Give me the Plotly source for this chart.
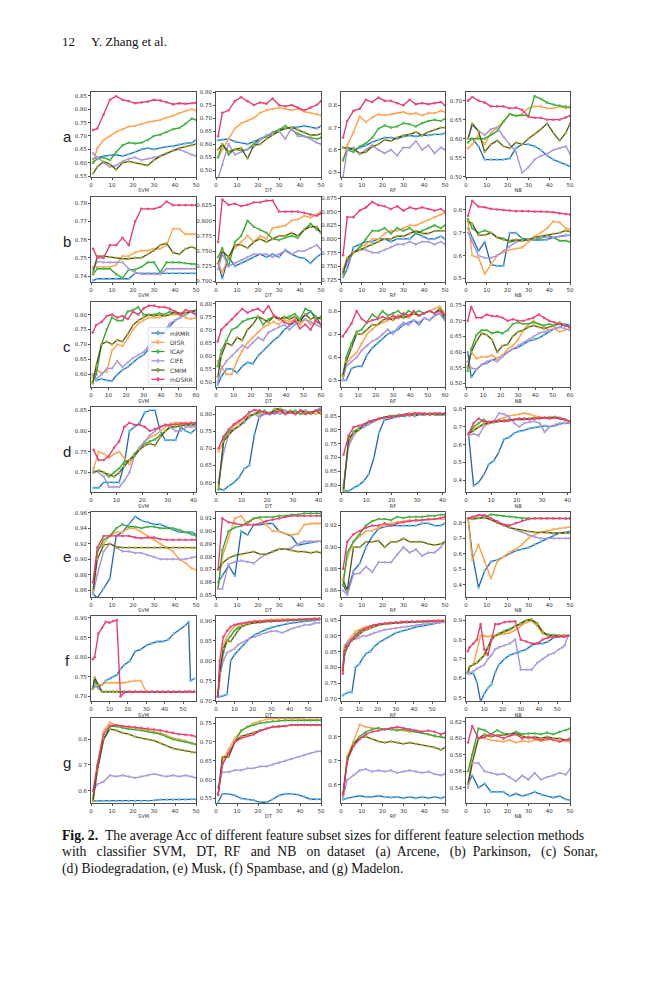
import plotly.graph_objects as go

# page is 659x1000; the HTML body adds an 8px margin, so the figure is a bit smaller
PAGE_W, PAGE_H, BODY = 659, 1000, 8
W, H = PAGE_W - 2 * BODY, PAGE_H - 2 * BODY


def fx(px):
    return (px - BODY) / W


def fy(py):
    return 1 - (py - BODY) / H


METHODS = ["mRMR", "DISR", "ICAP", "CIFE", "CMIM", "mDSRR"]
LINE_COLORS = ["#2464ad", "#ff9a3c", "#2ca02c", "#a08ad6", "#4e5216", "#e3336b"]
MARKER_COLORS = ["#5cc3ea", "#ffb266", "#4cbf4c", "#b5a3e6", "#b0b030", "#ee4a80"]
CLASSIFIERS = ["SVM", "DT", "RF", "NB"]
ROW_LETTERS = ["a", "b", "c", "d", "e", "f", "g"]

# feature subset sizes (x) per dataset row
X50 = [1, 3, 6, 9, 12, 15, 18, 21, 24, 27, 30, 33, 36, 39, 42, 45, 48, 50]
X60 = [1, 3, 6, 9, 12, 15, 18, 21, 24, 27, 30, 33, 36, 39, 42, 45, 48, 51, 54, 57, 60]
X40 = [1, 3, 5, 7, 9, 11, 13, 15, 17, 19, 21, 23, 25, 27, 29, 31, 33, 35, 37, 39, 41]
X57 = [1, 2, 4, 6, 8, 10, 12, 14, 16, 18, 21, 24, 27, 30, 33, 36, 39, 42, 45, 48, 51, 53, 54, 56]

# Each panel: [mRMR, DISR, ICAP, CIFE, CMIM, mDSRR]
# (a) Arcene
A_SVM = [
    [0.615, 0.62, 0.625, 0.628, 0.63, 0.625, 0.632, 0.64, 0.65, 0.655, 0.65, 0.655, 0.66, 0.662, 0.668, 0.672, 0.675, 0.685],
    [0.60, 0.655, 0.685, 0.70, 0.715, 0.725, 0.735, 0.738, 0.745, 0.752, 0.755, 0.76, 0.768, 0.775, 0.785, 0.793, 0.80, 0.795],
    [0.60, 0.615, 0.62, 0.61, 0.64, 0.665, 0.675, 0.672, 0.675, 0.685, 0.70, 0.705, 0.715, 0.725, 0.73, 0.745, 0.765, 0.76],
    [0.635, 0.62, 0.60, 0.585, 0.59, 0.605, 0.615, 0.62, 0.61, 0.615, 0.62, 0.625, 0.635, 0.645, 0.65, 0.64, 0.63, 0.625],
    [0.56, 0.585, 0.605, 0.595, 0.575, 0.60, 0.605, 0.60, 0.595, 0.59, 0.61, 0.625, 0.635, 0.645, 0.655, 0.66, 0.665, 0.67],
    [0.722, 0.728, 0.78, 0.835, 0.848, 0.835, 0.83, 0.822, 0.825, 0.828, 0.835, 0.832, 0.826, 0.818, 0.822, 0.82, 0.822, 0.824],
]
A_DT = [
    [0.615, 0.618, 0.62, 0.61, 0.605, 0.60, 0.61, 0.62, 0.63, 0.64, 0.655, 0.66, 0.665, 0.665, 0.67, 0.665, 0.66, 0.67],
    [0.55, 0.58, 0.62, 0.66, 0.68, 0.69, 0.70, 0.72, 0.73, 0.735, 0.74, 0.735, 0.73, 0.735, 0.725, 0.72, 0.715, 0.71],
    [0.55, 0.60, 0.56, 0.58, 0.575, 0.58, 0.60, 0.62, 0.63, 0.645, 0.655, 0.67, 0.655, 0.64, 0.63, 0.625, 0.62, 0.625],
    [0.47, 0.52, 0.60, 0.56, 0.57, 0.58, 0.59, 0.615, 0.635, 0.64, 0.65, 0.62, 0.66, 0.63, 0.63, 0.62, 0.605, 0.60],
    [0.58, 0.60, 0.57, 0.58, 0.585, 0.545, 0.595, 0.60, 0.62, 0.635, 0.65, 0.66, 0.665, 0.655, 0.645, 0.635, 0.635, 0.64],
    [0.63, 0.72, 0.73, 0.765, 0.78, 0.765, 0.75, 0.76, 0.755, 0.775, 0.75, 0.745, 0.75, 0.74, 0.73, 0.74, 0.75, 0.765],
]
A_RF = [
    [0.61, 0.605, 0.60, 0.61, 0.62, 0.635, 0.645, 0.655, 0.655, 0.65, 0.66, 0.665, 0.66, 0.665, 0.665, 0.67, 0.67, 0.675],
    [0.55, 0.62, 0.68, 0.75, 0.725, 0.745, 0.76, 0.755, 0.76, 0.765, 0.77, 0.76, 0.765, 0.755, 0.765, 0.765, 0.775, 0.77],
    [0.555, 0.60, 0.59, 0.615, 0.63, 0.655, 0.695, 0.71, 0.70, 0.705, 0.72, 0.715, 0.705, 0.72, 0.73, 0.735, 0.73, 0.74],
    [0.48, 0.60, 0.61, 0.58, 0.60, 0.62, 0.60, 0.585, 0.60, 0.575, 0.61, 0.61, 0.64, 0.60, 0.62, 0.585, 0.61, 0.60],
    [0.61, 0.61, 0.605, 0.585, 0.59, 0.615, 0.625, 0.645, 0.64, 0.655, 0.665, 0.67, 0.68, 0.665, 0.68, 0.69, 0.70, 0.70],
    [0.655, 0.73, 0.775, 0.785, 0.825, 0.815, 0.835, 0.82, 0.82, 0.81, 0.80, 0.825, 0.805, 0.81, 0.805, 0.81, 0.815, 0.80],
]
A_NB = [
    [0.60, 0.60, 0.58, 0.545, 0.545, 0.545, 0.545, 0.548, 0.575, 0.585, 0.585, 0.58, 0.57, 0.555, 0.545, 0.538, 0.532, 0.527],
    [0.575, 0.585, 0.61, 0.585, 0.615, 0.63, 0.645, 0.665, 0.66, 0.665, 0.68, 0.685, 0.685, 0.68, 0.68, 0.685, 0.68, 0.685],
    [0.59, 0.60, 0.60, 0.60, 0.61, 0.62, 0.645, 0.665, 0.66, 0.662, 0.66, 0.712, 0.705, 0.695, 0.69, 0.687, 0.685, 0.682],
    [0.60, 0.635, 0.62, 0.61, 0.625, 0.63, 0.605, 0.585, 0.565, 0.51, 0.525, 0.545, 0.555, 0.56, 0.57, 0.575, 0.58, 0.56],
    [0.60, 0.64, 0.62, 0.565, 0.585, 0.595, 0.58, 0.575, 0.59, 0.585, 0.60, 0.612, 0.625, 0.64, 0.615, 0.595, 0.615, 0.64],
    [0.70, 0.71, 0.70, 0.695, 0.685, 0.685, 0.685, 0.68, 0.682, 0.676, 0.658, 0.655, 0.655, 0.65, 0.65, 0.65, 0.656, 0.66],
]
# (b) Parkinson
B_SVM = [
    [0.7375, 0.7385, 0.7385, 0.7385, 0.7385, 0.7385, 0.7385, 0.7415, 0.7415, 0.7415, 0.7415, 0.7415, 0.7415, 0.7415, 0.7415, 0.7415, 0.7415, 0.7415],
    [0.745, 0.745, 0.745, 0.745, 0.746, 0.751, 0.751, 0.753, 0.754, 0.754, 0.755, 0.755, 0.757, 0.766, 0.766, 0.763, 0.763, 0.763],
    [0.741, 0.744, 0.744, 0.744, 0.741, 0.739, 0.7435, 0.7435, 0.745, 0.7475, 0.7475, 0.742, 0.7475, 0.7475, 0.7475, 0.747, 0.7465, 0.7465],
    [0.744, 0.748, 0.7475, 0.7475, 0.7475, 0.7475, 0.744, 0.742, 0.741, 0.741, 0.741, 0.741, 0.744, 0.744, 0.744, 0.744, 0.744, 0.744],
    [0.742, 0.751, 0.751, 0.7505, 0.75, 0.7495, 0.7495, 0.75, 0.75, 0.752, 0.754, 0.757, 0.758, 0.753, 0.752, 0.755, 0.756, 0.755],
    [0.755, 0.75, 0.75, 0.757, 0.757, 0.761, 0.757, 0.77, 0.777, 0.777, 0.777, 0.778, 0.781, 0.779, 0.779, 0.779, 0.779, 0.779],
]
B_DT = [
    [0.73, 0.705, 0.74, 0.725, 0.73, 0.735, 0.74, 0.745, 0.74, 0.745, 0.74, 0.752, 0.745, 0.74, 0.738, 0.73, 0.74, 0.745],
    [0.73, 0.715, 0.74, 0.755, 0.765, 0.775, 0.765, 0.775, 0.77, 0.788, 0.79, 0.792, 0.80, 0.802, 0.808, 0.805, 0.81, 0.815],
    [0.74, 0.755, 0.725, 0.765, 0.775, 0.80, 0.79, 0.785, 0.78, 0.77, 0.768, 0.772, 0.775, 0.772, 0.785, 0.795, 0.785, 0.78],
    [0.72, 0.745, 0.725, 0.73, 0.735, 0.74, 0.745, 0.745, 0.745, 0.74, 0.745, 0.75, 0.745, 0.75, 0.75, 0.755, 0.76, 0.752],
    [0.73, 0.75, 0.74, 0.76, 0.76, 0.755, 0.765, 0.77, 0.765, 0.77, 0.775, 0.775, 0.78, 0.775, 0.785, 0.79, 0.79, 0.78],
    [0.765, 0.835, 0.826, 0.828, 0.824, 0.826, 0.83, 0.83, 0.833, 0.833, 0.815, 0.815, 0.815, 0.815, 0.813, 0.81, 0.808, 0.812],
]
B_RF = [
    [0.73, 0.745, 0.785, 0.79, 0.795, 0.795, 0.80, 0.80, 0.795, 0.80, 0.80, 0.80, 0.81, 0.805, 0.80, 0.80, 0.805, 0.80],
    [0.745, 0.765, 0.775, 0.785, 0.79, 0.80, 0.80, 0.81, 0.815, 0.815, 0.82, 0.825, 0.825, 0.83, 0.835, 0.84, 0.845, 0.848],
    [0.74, 0.76, 0.775, 0.785, 0.80, 0.815, 0.815, 0.82, 0.81, 0.82, 0.815, 0.82, 0.81, 0.815, 0.82, 0.825, 0.82, 0.825],
    [0.74, 0.755, 0.775, 0.78, 0.78, 0.775, 0.775, 0.78, 0.785, 0.79, 0.79, 0.795, 0.79, 0.795, 0.795, 0.79, 0.795, 0.79],
    [0.735, 0.765, 0.775, 0.78, 0.785, 0.79, 0.795, 0.80, 0.80, 0.805, 0.805, 0.81, 0.815, 0.81, 0.81, 0.815, 0.815, 0.815],
    [0.77, 0.84, 0.84, 0.852, 0.858, 0.868, 0.862, 0.86, 0.855, 0.86, 0.852, 0.858, 0.855, 0.858, 0.855, 0.852, 0.855, 0.85],
]
B_NB = [
    [0.72, 0.68, 0.62, 0.66, 0.56, 0.555, 0.555, 0.70, 0.70, 0.675, 0.67, 0.668, 0.668, 0.67, 0.68, 0.685, 0.69, 0.69],
    [0.75, 0.60, 0.59, 0.52, 0.56, 0.60, 0.615, 0.625, 0.63, 0.635, 0.66, 0.685, 0.70, 0.72, 0.75, 0.745, 0.72, 0.715],
    [0.76, 0.72, 0.70, 0.71, 0.70, 0.68, 0.675, 0.66, 0.665, 0.67, 0.67, 0.67, 0.675, 0.69, 0.68, 0.665, 0.665, 0.66],
    [0.70, 0.66, 0.60, 0.59, 0.59, 0.60, 0.62, 0.64, 0.66, 0.665, 0.67, 0.675, 0.68, 0.68, 0.68, 0.685, 0.69, 0.69],
    [0.75, 0.74, 0.69, 0.69, 0.70, 0.68, 0.67, 0.665, 0.67, 0.665, 0.67, 0.68, 0.685, 0.69, 0.695, 0.70, 0.71, 0.705],
    [0.775, 0.84, 0.815, 0.812, 0.805, 0.802, 0.80, 0.798, 0.795, 0.795, 0.795, 0.793, 0.793, 0.792, 0.79, 0.785, 0.782, 0.78],
]
# (c) Sonar
C_SVM = [
    [0.60, 0.58, 0.585, 0.58, 0.578, 0.60, 0.615, 0.625, 0.64, 0.655, 0.665, 0.685, 0.70, 0.72, 0.74, 0.76, 0.78, 0.79, 0.80, 0.81, 0.81],
    [0.59, 0.615, 0.605, 0.61, 0.68, 0.70, 0.695, 0.72, 0.75, 0.77, 0.78, 0.79, 0.79, 0.79, 0.795, 0.80, 0.80, 0.80, 0.79, 0.785, 0.79],
    [0.575, 0.60, 0.70, 0.75, 0.79, 0.78, 0.78, 0.81, 0.815, 0.825, 0.80, 0.80, 0.80, 0.805, 0.80, 0.81, 0.805, 0.80, 0.805, 0.81, 0.815],
    [0.60, 0.585, 0.60, 0.62, 0.62, 0.645, 0.625, 0.64, 0.655, 0.665, 0.675, 0.695, 0.71, 0.725, 0.745, 0.77, 0.78, 0.79, 0.80, 0.81, 0.80],
    [0.57, 0.63, 0.70, 0.71, 0.70, 0.715, 0.71, 0.735, 0.765, 0.78, 0.79, 0.80, 0.795, 0.80, 0.795, 0.80, 0.81, 0.805, 0.805, 0.81, 0.815],
    [0.74, 0.765, 0.775, 0.795, 0.80, 0.79, 0.795, 0.785, 0.81, 0.80, 0.82, 0.83, 0.83, 0.825, 0.825, 0.82, 0.81, 0.80, 0.815, 0.81, 0.80],
]
C_DT = [
    [0.49, 0.52, 0.55, 0.55, 0.535, 0.56, 0.575, 0.57, 0.60, 0.62, 0.64, 0.66, 0.675, 0.70, 0.715, 0.73, 0.74, 0.755, 0.77, 0.75, 0.72],
    [0.58, 0.56, 0.53, 0.53, 0.58, 0.62, 0.65, 0.67, 0.69, 0.71, 0.72, 0.73, 0.72, 0.74, 0.73, 0.74, 0.72, 0.74, 0.72, 0.73, 0.72],
    [0.56, 0.62, 0.66, 0.70, 0.71, 0.73, 0.74, 0.745, 0.75, 0.72, 0.74, 0.75, 0.74, 0.745, 0.75, 0.76, 0.74, 0.78, 0.77, 0.74, 0.75],
    [0.50, 0.55, 0.58, 0.60, 0.62, 0.64, 0.63, 0.65, 0.67, 0.66, 0.69, 0.70, 0.71, 0.72, 0.70, 0.72, 0.73, 0.74, 0.73, 0.72, 0.71],
    [0.52, 0.60, 0.65, 0.64, 0.67, 0.66, 0.70, 0.72, 0.75, 0.74, 0.73, 0.75, 0.74, 0.75, 0.74, 0.75, 0.73, 0.76, 0.74, 0.75, 0.74],
    [0.655, 0.70, 0.72, 0.74, 0.76, 0.78, 0.765, 0.775, 0.78, 0.765, 0.79, 0.755, 0.745, 0.73, 0.72, 0.735, 0.705, 0.72, 0.70, 0.735, 0.72],
]
C_RF = [
    [0.50, 0.50, 0.55, 0.56, 0.56, 0.61, 0.64, 0.66, 0.68, 0.70, 0.71, 0.72, 0.74, 0.75, 0.76, 0.74, 0.77, 0.76, 0.78, 0.79, 0.76],
    [0.50, 0.57, 0.60, 0.62, 0.66, 0.70, 0.72, 0.74, 0.75, 0.76, 0.77, 0.77, 0.78, 0.77, 0.79, 0.78, 0.79, 0.80, 0.81, 0.82, 0.79],
    [0.52, 0.60, 0.66, 0.71, 0.72, 0.75, 0.785, 0.77, 0.80, 0.78, 0.79, 0.80, 0.78, 0.80, 0.79, 0.80, 0.79, 0.80, 0.79, 0.81, 0.78],
    [0.50, 0.56, 0.58, 0.60, 0.63, 0.65, 0.67, 0.68, 0.70, 0.72, 0.70, 0.73, 0.75, 0.74, 0.76, 0.75, 0.77, 0.76, 0.78, 0.79, 0.77],
    [0.52, 0.58, 0.64, 0.70, 0.70, 0.72, 0.74, 0.74, 0.76, 0.77, 0.76, 0.78, 0.77, 0.78, 0.79, 0.78, 0.79, 0.80, 0.79, 0.81, 0.77],
    [0.69, 0.71, 0.745, 0.80, 0.765, 0.75, 0.76, 0.765, 0.775, 0.765, 0.78, 0.77, 0.79, 0.78, 0.80, 0.78, 0.79, 0.80, 0.79, 0.80, 0.78],
]
C_NB = [
    [0.60, 0.52, 0.545, 0.56, 0.565, 0.575, 0.58, 0.59, 0.60, 0.61, 0.615, 0.625, 0.635, 0.64, 0.645, 0.655, 0.665, 0.675, 0.68, 0.69, 0.685],
    [0.55, 0.60, 0.58, 0.585, 0.585, 0.59, 0.58, 0.59, 0.61, 0.62, 0.64, 0.67, 0.69, 0.70, 0.69, 0.68, 0.67, 0.675, 0.665, 0.67, 0.675],
    [0.54, 0.61, 0.655, 0.67, 0.67, 0.66, 0.665, 0.66, 0.67, 0.69, 0.695, 0.69, 0.69, 0.695, 0.69, 0.685, 0.69, 0.685, 0.69, 0.685, 0.68],
    [0.57, 0.55, 0.545, 0.56, 0.57, 0.575, 0.57, 0.585, 0.60, 0.61, 0.62, 0.63, 0.64, 0.65, 0.66, 0.665, 0.67, 0.675, 0.68, 0.675, 0.67],
    [0.55, 0.60, 0.635, 0.66, 0.655, 0.64, 0.60, 0.62, 0.625, 0.65, 0.665, 0.67, 0.68, 0.685, 0.68, 0.675, 0.68, 0.685, 0.695, 0.685, 0.68],
    [0.70, 0.745, 0.71, 0.71, 0.72, 0.715, 0.715, 0.71, 0.70, 0.705, 0.70, 0.70, 0.705, 0.71, 0.72, 0.71, 0.70, 0.695, 0.69, 0.685, 0.68],
]
# (d) Biodegradation
D_SVM = [
    [0.663, 0.663, 0.676, 0.676, 0.676, 0.676, 0.72, 0.80, 0.81, 0.82, 0.845, 0.85, 0.85, 0.80, 0.778, 0.778, 0.778, 0.81, 0.80, 0.795, 0.805],
    [0.71, 0.75, 0.745, 0.735, 0.745, 0.75, 0.735, 0.72, 0.74, 0.76, 0.775, 0.785, 0.79, 0.80, 0.81, 0.818, 0.82, 0.82, 0.82, 0.815, 0.815],
    [0.70, 0.705, 0.70, 0.69, 0.70, 0.71, 0.725, 0.73, 0.745, 0.76, 0.77, 0.775, 0.78, 0.79, 0.80, 0.81, 0.81, 0.812, 0.815, 0.815, 0.82],
    [0.705, 0.70, 0.69, 0.665, 0.665, 0.665, 0.68, 0.70, 0.74, 0.76, 0.775, 0.79, 0.80, 0.81, 0.815, 0.81, 0.80, 0.80, 0.81, 0.81, 0.81],
    [0.70, 0.705, 0.70, 0.695, 0.69, 0.70, 0.715, 0.73, 0.74, 0.755, 0.765, 0.77, 0.765, 0.785, 0.80, 0.81, 0.81, 0.813, 0.815, 0.815, 0.815],
    [0.755, 0.73, 0.73, 0.74, 0.76, 0.775, 0.81, 0.82, 0.815, 0.815, 0.81, 0.80, 0.805, 0.81, 0.815, 0.815, 0.816, 0.818, 0.818, 0.82, 0.82],
]
D_DT = [
    [0.582, 0.578, 0.59, 0.60, 0.615, 0.64, 0.65, 0.74, 0.795, 0.80, 0.805, 0.80, 0.81, 0.80, 0.805, 0.80, 0.81, 0.80, 0.805, 0.81, 0.815],
    [0.69, 0.72, 0.745, 0.765, 0.775, 0.79, 0.795, 0.80, 0.80, 0.805, 0.80, 0.81, 0.805, 0.80, 0.81, 0.805, 0.80, 0.80, 0.805, 0.80, 0.805],
    [0.58, 0.73, 0.75, 0.755, 0.765, 0.775, 0.795, 0.80, 0.805, 0.81, 0.80, 0.81, 0.815, 0.81, 0.805, 0.81, 0.80, 0.81, 0.805, 0.81, 0.815],
    [0.60, 0.69, 0.74, 0.755, 0.765, 0.775, 0.79, 0.80, 0.79, 0.80, 0.80, 0.805, 0.80, 0.81, 0.805, 0.80, 0.81, 0.81, 0.80, 0.81, 0.82],
    [0.59, 0.72, 0.74, 0.755, 0.765, 0.78, 0.795, 0.80, 0.81, 0.805, 0.80, 0.815, 0.815, 0.80, 0.81, 0.80, 0.81, 0.805, 0.80, 0.81, 0.80],
    [0.70, 0.735, 0.755, 0.77, 0.78, 0.79, 0.805, 0.812, 0.81, 0.805, 0.80, 0.805, 0.81, 0.80, 0.805, 0.80, 0.81, 0.80, 0.805, 0.81, 0.81],
]
D_RF = [
    [0.58, 0.578, 0.59, 0.60, 0.615, 0.64, 0.70, 0.79, 0.835, 0.84, 0.845, 0.85, 0.85, 0.855, 0.85, 0.855, 0.855, 0.86, 0.855, 0.855, 0.855],
    [0.60, 0.75, 0.79, 0.80, 0.815, 0.825, 0.835, 0.84, 0.845, 0.85, 0.85, 0.855, 0.855, 0.86, 0.855, 0.86, 0.86, 0.855, 0.86, 0.855, 0.86],
    [0.59, 0.76, 0.795, 0.805, 0.815, 0.825, 0.835, 0.84, 0.845, 0.85, 0.85, 0.855, 0.85, 0.855, 0.86, 0.86, 0.855, 0.86, 0.86, 0.855, 0.86],
    [0.60, 0.74, 0.78, 0.80, 0.81, 0.82, 0.83, 0.84, 0.845, 0.845, 0.85, 0.85, 0.855, 0.85, 0.86, 0.855, 0.86, 0.855, 0.86, 0.86, 0.855],
    [0.58, 0.77, 0.79, 0.80, 0.82, 0.83, 0.835, 0.84, 0.845, 0.85, 0.85, 0.85, 0.855, 0.86, 0.855, 0.86, 0.855, 0.86, 0.855, 0.86, 0.855],
    [0.71, 0.78, 0.81, 0.815, 0.82, 0.83, 0.835, 0.84, 0.845, 0.845, 0.85, 0.85, 0.855, 0.855, 0.86, 0.86, 0.86, 0.855, 0.86, 0.86, 0.86],
]
D_NB = [
    [0.66, 0.37, 0.39, 0.43, 0.49, 0.51, 0.56, 0.63, 0.64, 0.665, 0.675, 0.68, 0.69, 0.695, 0.70, 0.705, 0.70, 0.705, 0.715, 0.72, 0.72],
    [0.66, 0.69, 0.70, 0.72, 0.73, 0.73, 0.74, 0.75, 0.76, 0.765, 0.77, 0.775, 0.77, 0.76, 0.755, 0.75, 0.755, 0.75, 0.745, 0.735, 0.73],
    [0.66, 0.70, 0.72, 0.74, 0.72, 0.725, 0.73, 0.735, 0.74, 0.74, 0.745, 0.745, 0.745, 0.75, 0.745, 0.75, 0.75, 0.755, 0.75, 0.74, 0.73],
    [0.65, 0.66, 0.65, 0.70, 0.72, 0.73, 0.775, 0.77, 0.755, 0.72, 0.70, 0.72, 0.725, 0.73, 0.72, 0.67, 0.70, 0.71, 0.72, 0.72, 0.72],
    [0.66, 0.68, 0.70, 0.715, 0.72, 0.725, 0.73, 0.73, 0.735, 0.74, 0.74, 0.74, 0.745, 0.745, 0.745, 0.75, 0.75, 0.75, 0.745, 0.74, 0.73],
    [0.66, 0.72, 0.745, 0.73, 0.725, 0.73, 0.735, 0.73, 0.735, 0.74, 0.745, 0.745, 0.74, 0.745, 0.75, 0.75, 0.745, 0.75, 0.745, 0.74, 0.73],
]
# (e) Musk
E_SVM = [
    [0.855, 0.85, 0.862, 0.875, 0.93, 0.935, 0.945, 0.955, 0.95, 0.948, 0.945, 0.945, 0.942, 0.938, 0.935, 0.935, 0.935, 0.932],
    [0.87, 0.91, 0.92, 0.93, 0.935, 0.935, 0.94, 0.94, 0.935, 0.93, 0.925, 0.92, 0.915, 0.91, 0.90, 0.895, 0.888, 0.886],
    [0.855, 0.91, 0.925, 0.93, 0.94, 0.945, 0.942, 0.942, 0.94, 0.942, 0.942, 0.94, 0.94, 0.94, 0.938, 0.935, 0.932, 0.93],
    [0.855, 0.88, 0.91, 0.92, 0.915, 0.91, 0.91, 0.908, 0.908, 0.905, 0.903, 0.90, 0.90, 0.90, 0.90, 0.90, 0.902, 0.903],
    [0.86, 0.90, 0.918, 0.92, 0.916, 0.915, 0.915, 0.915, 0.915, 0.915, 0.915, 0.915, 0.915, 0.915, 0.915, 0.915, 0.915, 0.915],
    [0.87, 0.915, 0.93, 0.93, 0.93, 0.93, 0.93, 0.928, 0.927, 0.928, 0.928, 0.926, 0.925, 0.925, 0.925, 0.925, 0.925, 0.925],
]
E_DT = [
    [0.86, 0.865, 0.873, 0.865, 0.90, 0.897, 0.905, 0.905, 0.906, 0.906, 0.90, 0.898, 0.896, 0.889, 0.89, 0.891, 0.892, 0.892],
    [0.855, 0.88, 0.895, 0.91, 0.912, 0.905, 0.91, 0.91, 0.905, 0.90, 0.90, 0.898, 0.897, 0.898, 0.905, 0.906, 0.906, 0.906],
    [0.855, 0.885, 0.90, 0.903, 0.904, 0.907, 0.91, 0.911, 0.911, 0.911, 0.912, 0.912, 0.913, 0.913, 0.914, 0.914, 0.914, 0.914],
    [0.855, 0.855, 0.874, 0.876, 0.877, 0.876, 0.875, 0.879, 0.882, 0.884, 0.886, 0.886, 0.887, 0.89, 0.892, 0.892, 0.892, 0.892],
    [0.87, 0.875, 0.879, 0.881, 0.882, 0.883, 0.884, 0.882, 0.882, 0.884, 0.886, 0.886, 0.885, 0.884, 0.884, 0.883, 0.884, 0.883],
    [0.87, 0.91, 0.907, 0.906, 0.905, 0.905, 0.905, 0.906, 0.908, 0.909, 0.91, 0.911, 0.912, 0.912, 0.912, 0.912, 0.912, 0.912],
]
E_RF = [
    [0.865, 0.858, 0.878, 0.885, 0.90, 0.91, 0.917, 0.919, 0.92, 0.92, 0.92, 0.92, 0.92, 0.922, 0.922, 0.92, 0.92, 0.922],
    [0.87, 0.89, 0.905, 0.91, 0.915, 0.915, 0.918, 0.92, 0.922, 0.923, 0.924, 0.925, 0.924, 0.925, 0.925, 0.926, 0.926, 0.926],
    [0.865, 0.895, 0.905, 0.912, 0.92, 0.924, 0.926, 0.926, 0.925, 0.928, 0.927, 0.928, 0.928, 0.928, 0.929, 0.929, 0.93, 0.93],
    [0.86, 0.856, 0.875, 0.876, 0.882, 0.877, 0.886, 0.886, 0.886, 0.893, 0.90, 0.895, 0.898, 0.892, 0.895, 0.895, 0.90, 0.905],
    [0.87, 0.86, 0.90, 0.90, 0.905, 0.905, 0.906, 0.90, 0.905, 0.905, 0.908, 0.905, 0.905, 0.905, 0.903, 0.902, 0.903, 0.905],
    [0.88, 0.905, 0.912, 0.915, 0.918, 0.92, 0.92, 0.922, 0.92, 0.922, 0.923, 0.924, 0.925, 0.925, 0.926, 0.926, 0.927, 0.928],
]
E_NB = [
    [0.83, 0.60, 0.38, 0.49, 0.55, 0.56, 0.58, 0.60, 0.62, 0.63, 0.64, 0.66, 0.68, 0.70, 0.72, 0.735, 0.74, 0.745],
    [0.83, 0.56, 0.66, 0.55, 0.44, 0.55, 0.58, 0.61, 0.63, 0.66, 0.70, 0.725, 0.74, 0.75, 0.76, 0.765, 0.77, 0.775],
    [0.83, 0.83, 0.832, 0.84, 0.855, 0.85, 0.845, 0.84, 0.835, 0.832, 0.83, 0.83, 0.83, 0.83, 0.83, 0.83, 0.83, 0.83],
    [0.83, 0.84, 0.85, 0.84, 0.82, 0.80, 0.785, 0.77, 0.755, 0.74, 0.72, 0.71, 0.70, 0.70, 0.70, 0.70, 0.70, 0.70],
    [0.83, 0.825, 0.83, 0.835, 0.82, 0.80, 0.785, 0.77, 0.76, 0.75, 0.745, 0.74, 0.74, 0.738, 0.735, 0.735, 0.735, 0.735],
    [0.83, 0.84, 0.85, 0.85, 0.83, 0.81, 0.79, 0.785, 0.80, 0.815, 0.825, 0.83, 0.83, 0.83, 0.83, 0.83, 0.828, 0.828],
]
# (f) Spambase
F_SVM = [
    [0.72, 0.725, 0.725, 0.73, 0.74, 0.745, 0.75, 0.755, 0.77, 0.78, 0.79, 0.815, 0.82, 0.83, 0.835, 0.84, 0.84, 0.845, 0.86, 0.87, 0.88, 0.89, 0.74, 0.745],
    [0.72, 0.74, 0.73, 0.73, 0.735, 0.735, 0.735, 0.735, 0.735, 0.735, 0.738, 0.74, 0.74, 0.712, 0.712, 0.712, 0.712, 0.712, 0.712, 0.712, 0.712, 0.712, 0.712, 0.712],
    [0.72, 0.74, 0.725, 0.713, 0.712, 0.712, 0.712, 0.712, 0.712, 0.712, 0.712, 0.712, 0.712, 0.712, 0.712, 0.712, 0.712, 0.712, 0.712, 0.712, 0.712, 0.712, 0.712, 0.712],
    [0.72, 0.73, 0.72, 0.713, 0.712, 0.712, 0.712, 0.712, 0.712, 0.712, 0.712, 0.712, 0.712, 0.712, 0.712, 0.712, 0.712, 0.712, 0.712, 0.712, 0.712, 0.712, 0.712, 0.712],
    [0.72, 0.748, 0.73, 0.712, 0.712, 0.712, 0.712, 0.712, 0.712, 0.712, 0.712, 0.712, 0.712, 0.712, 0.712, 0.712, 0.712, 0.712, 0.712, 0.712, 0.712, 0.712, 0.712, 0.712],
    [0.795, 0.80, 0.86, 0.875, 0.89, 0.888, 0.892, 0.895, 0.70, 0.71, 0.712, 0.712, 0.712, 0.712, 0.712, 0.712, 0.712, 0.712, 0.712, 0.712, 0.712, 0.712, 0.712, 0.712],
]
F_DT = [
    [0.71, 0.71, 0.712, 0.716, 0.80, 0.815, 0.825, 0.835, 0.845, 0.855, 0.865, 0.872, 0.878, 0.883, 0.887, 0.89, 0.893, 0.895, 0.897, 0.899, 0.90, 0.901, 0.902, 0.903],
    [0.71, 0.75, 0.84, 0.86, 0.875, 0.885, 0.89, 0.892, 0.895, 0.897, 0.90, 0.90, 0.902, 0.903, 0.903, 0.904, 0.904, 0.903, 0.903, 0.904, 0.905, 0.905, 0.905, 0.905],
    [0.71, 0.76, 0.82, 0.85, 0.862, 0.875, 0.883, 0.887, 0.89, 0.892, 0.895, 0.896, 0.898, 0.898, 0.90, 0.90, 0.90, 0.901, 0.902, 0.902, 0.903, 0.903, 0.904, 0.904],
    [0.71, 0.76, 0.80, 0.82, 0.825, 0.83, 0.84, 0.845, 0.85, 0.855, 0.86, 0.866, 0.87, 0.874, 0.874, 0.87, 0.876, 0.882, 0.885, 0.89, 0.89, 0.893, 0.895, 0.895],
    [0.71, 0.77, 0.83, 0.85, 0.848, 0.862, 0.876, 0.885, 0.89, 0.893, 0.895, 0.897, 0.898, 0.90, 0.90, 0.901, 0.902, 0.903, 0.903, 0.904, 0.904, 0.905, 0.905, 0.905],
    [0.71, 0.80, 0.86, 0.875, 0.885, 0.89, 0.892, 0.893, 0.895, 0.897, 0.898, 0.898, 0.90, 0.90, 0.90, 0.901, 0.902, 0.902, 0.903, 0.903, 0.904, 0.904, 0.905, 0.905],
]
F_RF = [
    [0.71, 0.715, 0.72, 0.72, 0.80, 0.81, 0.83, 0.845, 0.85, 0.865, 0.88, 0.89, 0.90, 0.91, 0.915, 0.92, 0.925, 0.93, 0.932, 0.935, 0.94, 0.942, 0.943, 0.945],
    [0.80, 0.86, 0.885, 0.90, 0.915, 0.92, 0.925, 0.93, 0.932, 0.935, 0.938, 0.94, 0.942, 0.943, 0.944, 0.945, 0.946, 0.946, 0.947, 0.947, 0.948, 0.948, 0.948, 0.948],
    [0.79, 0.84, 0.87, 0.89, 0.905, 0.915, 0.92, 0.925, 0.93, 0.933, 0.936, 0.94, 0.941, 0.942, 0.943, 0.944, 0.945, 0.945, 0.946, 0.946, 0.947, 0.947, 0.947, 0.948],
    [0.80, 0.87, 0.885, 0.89, 0.89, 0.895, 0.90, 0.90, 0.905, 0.91, 0.915, 0.92, 0.922, 0.925, 0.928, 0.93, 0.932, 0.935, 0.937, 0.94, 0.942, 0.943, 0.943, 0.944],
    [0.79, 0.86, 0.875, 0.885, 0.895, 0.905, 0.915, 0.92, 0.925, 0.93, 0.935, 0.938, 0.94, 0.942, 0.943, 0.944, 0.945, 0.945, 0.946, 0.946, 0.947, 0.947, 0.947, 0.948],
    [0.78, 0.85, 0.87, 0.89, 0.90, 0.91, 0.92, 0.925, 0.93, 0.935, 0.938, 0.94, 0.942, 0.944, 0.945, 0.946, 0.946, 0.947, 0.947, 0.948, 0.948, 0.948, 0.948, 0.948],
]
F_NB = [
    [0.625, 0.625, 0.625, 0.58, 0.48, 0.52, 0.55, 0.57, 0.63, 0.67, 0.70, 0.72, 0.73, 0.74, 0.75, 0.77, 0.78, 0.78, 0.79, 0.81, 0.815, 0.82, 0.82, 0.82],
    [0.63, 0.66, 0.67, 0.74, 0.82, 0.82, 0.815, 0.82, 0.82, 0.825, 0.83, 0.835, 0.85, 0.87, 0.89, 0.895, 0.87, 0.83, 0.825, 0.82, 0.82, 0.82, 0.82, 0.82],
    [0.63, 0.66, 0.67, 0.68, 0.70, 0.72, 0.76, 0.80, 0.82, 0.83, 0.845, 0.855, 0.87, 0.885, 0.90, 0.90, 0.885, 0.84, 0.825, 0.825, 0.82, 0.82, 0.82, 0.82],
    [0.63, 0.63, 0.635, 0.65, 0.66, 0.67, 0.70, 0.72, 0.75, 0.76, 0.77, 0.78, 0.80, 0.645, 0.645, 0.645, 0.68, 0.70, 0.72, 0.73, 0.75, 0.76, 0.77, 0.82],
    [0.63, 0.66, 0.67, 0.68, 0.70, 0.72, 0.76, 0.80, 0.82, 0.83, 0.84, 0.85, 0.87, 0.88, 0.90, 0.905, 0.88, 0.84, 0.82, 0.82, 0.82, 0.82, 0.82, 0.82],
    [0.74, 0.76, 0.78, 0.80, 0.88, 0.75, 0.72, 0.80, 0.88, 0.88, 0.89, 0.893, 0.895, 0.80, 0.79, 0.78, 0.78, 0.80, 0.81, 0.815, 0.815, 0.815, 0.815, 0.82],
]
# (g) Madelon
G_SVM = [
    [0.56, 0.56, 0.56, 0.56, 0.56, 0.56, 0.56, 0.56, 0.56, 0.56, 0.562, 0.565, 0.565, 0.565, 0.566, 0.566, 0.567, 0.566],
    [0.58, 0.70, 0.83, 0.865, 0.855, 0.85, 0.845, 0.845, 0.84, 0.835, 0.83, 0.825, 0.815, 0.805, 0.80, 0.795, 0.785, 0.78],
    [0.57, 0.68, 0.80, 0.85, 0.85, 0.845, 0.84, 0.838, 0.835, 0.83, 0.825, 0.82, 0.81, 0.80, 0.795, 0.79, 0.785, 0.78],
    [0.60, 0.625, 0.635, 0.66, 0.655, 0.66, 0.655, 0.65, 0.655, 0.66, 0.665, 0.66, 0.655, 0.66, 0.655, 0.66, 0.655, 0.65],
    [0.56, 0.68, 0.80, 0.84, 0.835, 0.825, 0.82, 0.81, 0.805, 0.80, 0.795, 0.785, 0.775, 0.765, 0.76, 0.755, 0.75, 0.748],
    [0.60, 0.70, 0.82, 0.853, 0.855, 0.852, 0.85, 0.848, 0.845, 0.842, 0.838, 0.835, 0.83, 0.825, 0.82, 0.818, 0.815, 0.81],
]
G_DT = [
    [0.54, 0.562, 0.562, 0.558, 0.55, 0.548, 0.545, 0.54, 0.54, 0.548, 0.558, 0.562, 0.562, 0.56, 0.555, 0.548, 0.548, 0.548],
    [0.56, 0.65, 0.68, 0.71, 0.73, 0.74, 0.75, 0.755, 0.76, 0.762, 0.762, 0.762, 0.762, 0.762, 0.76, 0.76, 0.76, 0.76],
    [0.56, 0.64, 0.67, 0.70, 0.73, 0.74, 0.745, 0.75, 0.752, 0.755, 0.756, 0.757, 0.757, 0.757, 0.757, 0.757, 0.757, 0.757],
    [0.58, 0.62, 0.62, 0.625, 0.625, 0.63, 0.63, 0.635, 0.635, 0.64, 0.645, 0.65, 0.655, 0.66, 0.665, 0.67, 0.675, 0.675],
    [0.56, 0.66, 0.66, 0.70, 0.715, 0.72, 0.725, 0.73, 0.735, 0.74, 0.74, 0.742, 0.745, 0.745, 0.745, 0.745, 0.745, 0.745],
    [0.56, 0.64, 0.67, 0.70, 0.71, 0.715, 0.72, 0.73, 0.735, 0.74, 0.742, 0.742, 0.745, 0.745, 0.745, 0.745, 0.745, 0.745],
]
G_RF = [
    [0.54, 0.545, 0.55, 0.555, 0.55, 0.55, 0.555, 0.55, 0.548, 0.55, 0.545, 0.55, 0.545, 0.55, 0.545, 0.55, 0.545, 0.55],
    [0.57, 0.72, 0.78, 0.85, 0.84, 0.835, 0.835, 0.83, 0.835, 0.83, 0.825, 0.82, 0.82, 0.815, 0.81, 0.80, 0.80, 0.795],
    [0.56, 0.71, 0.77, 0.80, 0.82, 0.83, 0.835, 0.83, 0.83, 0.825, 0.83, 0.825, 0.82, 0.815, 0.81, 0.805, 0.80, 0.795],
    [0.55, 0.62, 0.64, 0.66, 0.665, 0.655, 0.66, 0.655, 0.66, 0.65, 0.655, 0.66, 0.655, 0.65, 0.655, 0.645, 0.64, 0.645],
    [0.56, 0.70, 0.77, 0.795, 0.80, 0.79, 0.78, 0.775, 0.78, 0.775, 0.77, 0.775, 0.77, 0.765, 0.76, 0.755, 0.745, 0.755],
    [0.56, 0.70, 0.76, 0.79, 0.81, 0.82, 0.825, 0.83, 0.835, 0.84, 0.835, 0.83, 0.825, 0.82, 0.825, 0.82, 0.81, 0.815],
]
G_NB = [
    [0.545, 0.555, 0.54, 0.545, 0.535, 0.535, 0.535, 0.53, 0.533, 0.53, 0.532, 0.535, 0.532, 0.53, 0.528, 0.53, 0.526, 0.525],
    [0.545, 0.58, 0.60, 0.60, 0.598, 0.597, 0.596, 0.598, 0.595, 0.597, 0.596, 0.598, 0.597, 0.598, 0.60, 0.598, 0.597, 0.595],
    [0.56, 0.58, 0.612, 0.61, 0.605, 0.61, 0.606, 0.605, 0.608, 0.605, 0.606, 0.606, 0.605, 0.607, 0.605, 0.608, 0.61, 0.612],
    [0.54, 0.57, 0.57, 0.56, 0.558, 0.556, 0.557, 0.553, 0.548, 0.555, 0.55, 0.558, 0.55, 0.553, 0.555, 0.558, 0.556, 0.563],
    [0.545, 0.57, 0.60, 0.605, 0.602, 0.604, 0.604, 0.605, 0.606, 0.603, 0.60, 0.602, 0.60, 0.602, 0.60, 0.60, 0.598, 0.60],
    [0.595, 0.615, 0.60, 0.602, 0.605, 0.603, 0.60, 0.603, 0.605, 0.60, 0.602, 0.60, 0.598, 0.60, 0.598, 0.596, 0.598, 0.598],
]

PANELS = [
    [A_SVM, A_DT, A_RF, A_NB],
    [B_SVM, B_DT, B_RF, B_NB],
    [C_SVM, C_DT, C_RF, C_NB],
    [D_SVM, D_DT, D_RF, D_NB],
    [E_SVM, E_DT, E_RF, E_NB],
    [F_SVM, F_DT, F_RF, F_NB],
    [G_SVM, G_DT, G_RF, G_NB],
]
ROW_X = [X50, X50, X60, X40, X50, X57, X50]
ROW_XRANGE = [[0, 50], [0, 50], [0, 60], [0, 41], [0, 50], [0, 57], [0, 50]]

# y-axis: (range, tick values, tick format)
Y_AXES = [
    [([0.547, 0.864], [0.55, 0.60, 0.65, 0.70, 0.75, 0.80, 0.85], ".2f"),
     ([0.474, 0.80], [0.50, 0.55, 0.60, 0.65, 0.70, 0.75, 0.80], ".2f"),
     ([0.478, 0.86], [0.5, 0.6, 0.7, 0.8], ".1f"),
     ([0.499, 0.723], [0.50, 0.55, 0.60, 0.65, 0.70], ".2f")],
    [([0.7367, 0.7835], [0.74, 0.75, 0.76, 0.77, 0.78], ".2f"),
     ([0.699, 0.839], [0.700, 0.725, 0.750, 0.775, 0.800, 0.825], ".3f"),
     ([0.721, 0.877], [0.725, 0.750, 0.775, 0.800, 0.825, 0.850, 0.875], ".3f"),
     ([0.484, 0.857], [0.5, 0.6, 0.7, 0.8], ".1f")],
    [([0.558, 0.842], [0.60, 0.65, 0.70, 0.75, 0.80], ".2f"),
     ([0.481, 0.806], [0.50, 0.55, 0.60, 0.65, 0.70, 0.75, 0.80], ".2f"),
     ([0.471, 0.839], [0.5, 0.6, 0.7, 0.8], ".1f"),
     ([0.489, 0.76], [0.50, 0.55, 0.60, 0.65, 0.70, 0.75], ".2f")],
    [([0.653, 0.858], [0.70, 0.75, 0.80, 0.85], ".2f"),
     ([0.5725, 0.8206], [0.60, 0.65, 0.70, 0.75, 0.80], ".2f"),
     ([0.575, 0.883], [0.60, 0.65, 0.70, 0.75, 0.80, 0.85], ".2f"),
     ([0.335, 0.81], [0.4, 0.5, 0.6, 0.7, 0.8], ".1f")],
    [([0.851, 0.961], [0.86, 0.88, 0.90, 0.92, 0.94, 0.96], ".2f"),
     ([0.8485, 0.915], [0.85, 0.86, 0.87, 0.88, 0.89, 0.90, 0.91], ".2f"),
     ([0.854, 0.9325], [0.86, 0.88, 0.90, 0.92], ".2f"),
     ([0.32, 0.871], [0.4, 0.5, 0.6, 0.7, 0.8], ".1f")],
    [([0.6885, 0.905], [0.70, 0.75, 0.80, 0.85, 0.90], ".2f"),
     ([0.699, 0.912], [0.70, 0.75, 0.80, 0.85, 0.90], ".2f"),
     ([0.6926, 0.9637], [0.70, 0.75, 0.80, 0.85, 0.90, 0.95], ".2f"),
     ([0.483, 0.922], [0.5, 0.6, 0.7, 0.8, 0.9], ".1f")],
    [([0.552, 0.883], [0.6, 0.7, 0.8], ".1f"),
     ([0.538, 0.7635], [0.55, 0.60, 0.65, 0.70, 0.75], ".2f"),
     ([0.525, 0.877], [0.6, 0.7, 0.8], ".1f"),
     ([0.5215, 0.6248], [0.52, 0.54, 0.56, 0.58, 0.60, 0.62], ".2f")],
]

# layout in page pixels
COL_PX = [(91, 196), (216, 321), (341, 445), (466, 570)]
ROW_TOP = [92, 197, 302, 407, 512, 616, 718]
ROW_H = 85

TICK_FONT = dict(family="DejaVu Sans", size=5.5, color="#333333")
AX_COMMON = dict(showline=True, mirror=True, linecolor="#505050", linewidth=0.8,
                 ticks="outside", ticklen=2, tickwidth=0.6, tickcolor="#505050",
                 tickfont=TICK_FONT, showgrid=False, zeroline=False, automargin=False)

fig = go.Figure()
layout_axes = {}
for r in range(7):
    for c in range(4):
        k = r * 4 + c + 1
        xn = "x" if k == 1 else f"x{k}"
        yn = "y" if k == 1 else f"y{k}"
        for m in range(6):
            fig.add_trace(go.Scatter(
                x=ROW_X[r], y=PANELS[r][c][m], mode="lines+markers", name=METHODS[m],
                line=dict(color=LINE_COLORS[m], width=1.3),
                marker=dict(size=2.6, color=MARKER_COLORS[m]),
                xaxis=xn, yaxis=yn, showlegend=False, hoverinfo="skip"))
        x0, x1 = COL_PX[c]
        top = ROW_TOP[r]
        yr, yt, yf = Y_AXES[r][c]
        suffix = "" if k == 1 else str(k)
        layout_axes["xaxis" + suffix] = dict(
            AX_COMMON, domain=[fx(x0), fx(x1)], anchor=yn, range=ROW_XRANGE[r],
            tick0=0, dtick=10,
            title=dict(text=CLASSIFIERS[c], standoff=1,
                       font=dict(family="DejaVu Sans", size=5, color="#333333")))
        layout_axes["yaxis" + suffix] = dict(
            AX_COMMON, domain=[fy(top + ROW_H), fy(top)], anchor=xn,
            range=yr, tickvals=yt, tickformat=yf)

annotations = []
shapes = []
for r in range(7):
    annotations.append(dict(text=ROW_LETTERS[r], xref="paper", yref="paper",
                            x=fx(67), y=fy(ROW_TOP[r] + 44), showarrow=False,
                            xanchor="center", yanchor="middle", borderpad=0,
                            font=dict(family="Liberation Sans", size=15, color="#222222")))

# legend drawn inside panel (c) SVM
LEG_AX = 9
lx, ly = f"x{LEG_AX} domain", f"y{LEG_AX} domain"
shapes.append(dict(type="rect", xref=lx, yref=ly, x0=0.545, x1=0.985, y0=0.025, y1=0.70,
                   line=dict(color="#d0d0d0", width=0.6), fillcolor="rgba(255,255,255,0.85)",
                   layer="above"))
for m in range(6):
    yy = 0.635 - m * 0.109
    shapes.append(dict(type="line", xref=lx, yref=ly, x0=0.575, x1=0.70, y0=yy, y1=yy,
                       line=dict(color=LINE_COLORS[m], width=1.2), layer="above"))
    shapes.append(dict(type="circle", xref=lx, yref=ly, x0=0.627, x1=0.649,
                       y0=yy - 0.024, y1=yy + 0.024, fillcolor=MARKER_COLORS[m],
                       line=dict(color=LINE_COLORS[m], width=0.4), layer="above"))
    annotations.append(dict(text=METHODS[m], xref=lx, yref=ly, x=0.73, y=yy,
                            xanchor="left", yanchor="middle", showarrow=False,
                            font=dict(family="DejaVu Sans", size=6, color="#333333")))

SERIF = "Liberation Serif"
annotations.append(dict(text="12", xref="paper", yref="paper", x=fx(60), y=fy(42),
                        xanchor="left", yanchor="middle", showarrow=False,
                        font=dict(family=SERIF, size=13, color="#111111")))
annotations.append(dict(text="Y. Zhang et al.", xref="paper", yref="paper", x=fx(89), y=fy(42),
                        xanchor="left", yanchor="middle", showarrow=False,
                        font=dict(family=SERIF, size=13, color="#111111")))

SP = "\u00a0"
line2_words = "with classifier SVM, DT, RF and NB on dataset (a) Arcene, (b) Parkinson, (c) Sonar,".split(" ")
line2 = line2_words[0]
for i, wd in enumerate(line2_words[1:]):
    line2 += (SP + SP + " " if i % 2 == 0 else SP + " ") + wd
CAPTION = [
    "<b>Fig. 2.</b>" + SP + SP + "The average Acc of different feature subset sizes for different feature selection methods",
    line2,
    "(d) Biodegradation, (e) Musk, (f) Spambase, and (g) Madelon.",
]
for i, line in enumerate(CAPTION):
    annotations.append(dict(text=line, xref="paper", yref="paper", x=fx(60), y=fy(835 + 17 * i),
                            xanchor="left", yanchor="middle", showarrow=False,
                            font=dict(family=SERIF, size=13.7, color="#111111")))

fig.update_layout(
    width=W, height=H, margin=dict(l=0, r=0, t=0, b=0),
    paper_bgcolor="white", plot_bgcolor="white", showlegend=False,
    annotations=annotations, shapes=shapes, **layout_axes)

fig.write_html("out.html")
